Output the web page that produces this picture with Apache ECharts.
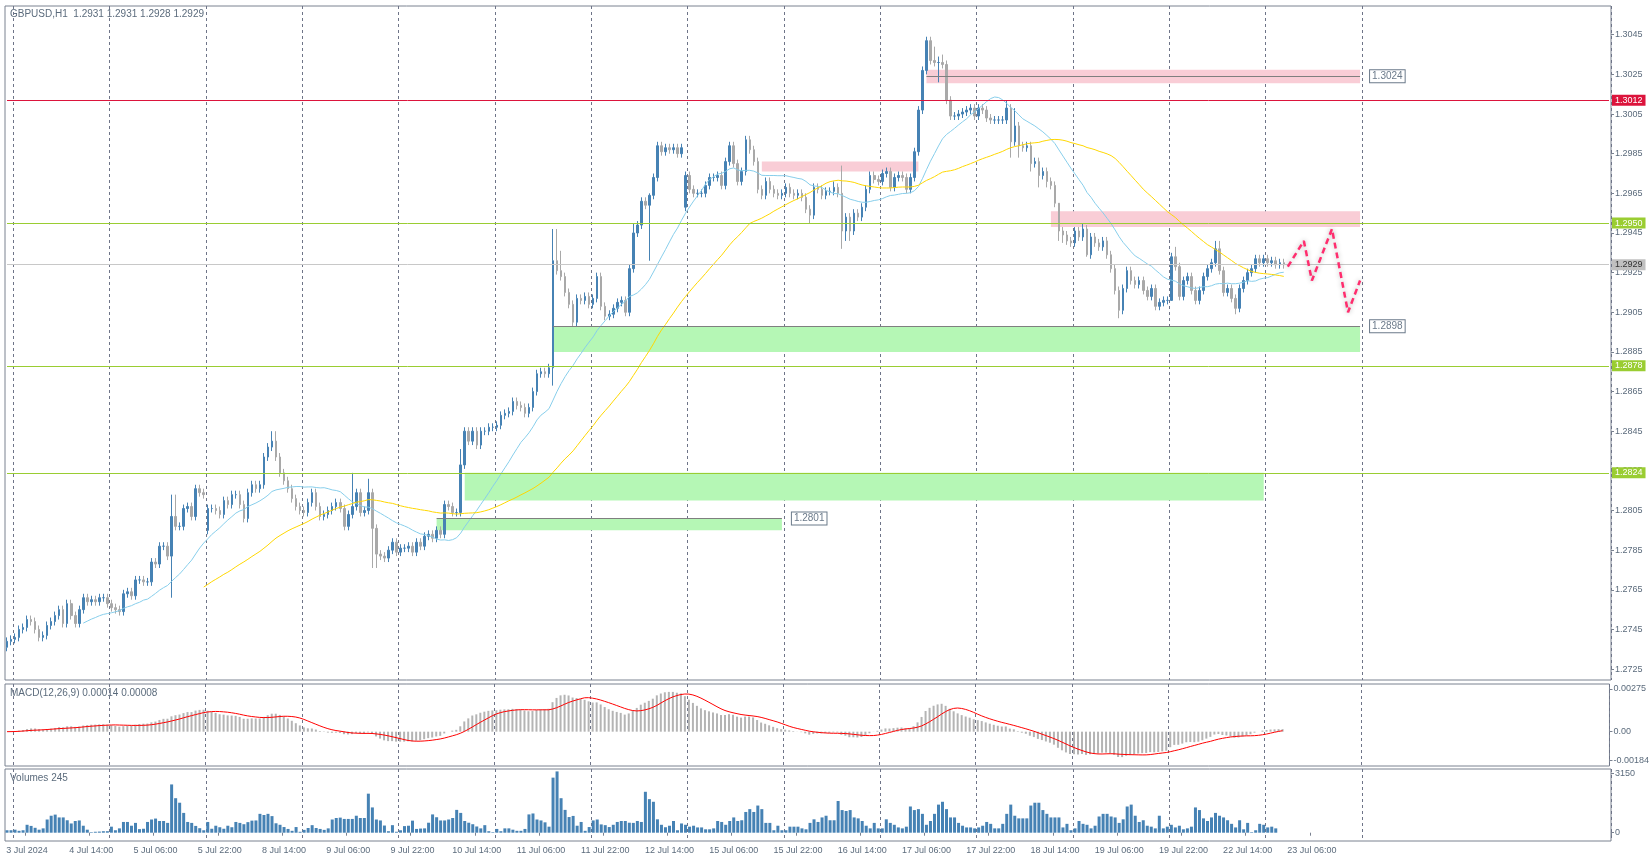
<!DOCTYPE html>
<html><head><meta charset="utf-8">
<script src="https://cdn.jsdelivr.net/npm/echarts@6/dist/echarts.min.js"></script>
<style>html,body{margin:0;padding:0;background:#fff}#c{width:1652px;height:862px}</style>
</head><body><div id="c"></div>
<script>
// ---- DATA ----
const closes = [1.2739,1.2740,1.2741,1.2745,1.2746,1.2750,1.2749,1.2745,1.2741,1.2742,
1.2747,1.2749,1.2752,1.2755,1.2748,1.2758,1.2752,1.2748,1.2755,1.2761,
1.2759,1.2760,1.2759,1.2761,1.2761,1.2758,1.2756,1.2755,1.2754,1.2763,
1.2764,1.2762,1.2770,1.2770,1.2769,1.2769,1.2779,1.2778,1.2787,1.2787,
1.2782,1.2802,1.2797,1.2797,1.2806,1.2807,1.2802,1.2816,1.2814,1.2813,
1.2806,1.2806,1.2805,1.2803,1.2810,1.2808,1.2813,1.2813,1.2808,1.2801,
1.2814,1.2818,1.2816,1.2818,1.2832,1.2837,1.2840,1.2832,1.2824,1.2820,
1.2816,1.2811,1.2807,1.2805,1.2804,1.2809,1.2814,1.2807,1.2802,1.2803,
1.2805,1.2807,1.2809,1.2806,1.2797,1.2803,1.2807,1.2814,1.2804,1.2805,
1.2814,1.2796,1.2783,1.2782,1.2781,1.2785,1.2789,1.2784,1.2786,1.2786,
1.2787,1.2784,1.2789,1.2787,1.2792,1.2793,1.2791,1.2795,1.2793,1.2808,
1.2807,1.2804,1.2804,1.2828,1.2845,1.2840,1.2845,1.2838,1.2845,1.2845,
1.2847,1.2847,1.2848,1.2853,1.2854,1.2855,1.2860,1.2858,1.2857,1.2854,
1.2857,1.2865,1.2874,1.2875,1.2874,1.2877,1.2931,1.2926,1.2923,1.2915,
1.2909,1.2900,1.2912,1.2911,1.2913,1.2909,1.2912,1.2923,1.2908,1.2903,
1.2904,1.2907,1.2910,1.2911,1.2905,1.2927,1.2945,1.2949,1.2961,1.2959,
1.2964,1.2973,1.2989,1.2986,1.2988,1.2987,1.2988,1.2985,1.2988,1.2974,
1.2967,1.2965,1.2965,1.2965,1.2969,1.2973,1.2973,1.2974,1.2969,1.2981,
1.2989,1.2980,1.2971,1.2976,1.2992,1.2987,1.2981,1.2967,1.2964,1.2971,
1.2967,1.2965,1.2964,1.2965,1.2968,1.2965,1.2964,1.2965,1.2963,1.2957,
1.2954,1.2968,1.2967,1.2964,1.2966,1.2966,1.2968,1.2965,1.2946,1.2953,
1.2946,1.2955,1.2953,1.2958,1.2967,1.2974,1.2972,1.2971,1.2975,1.2976,
1.2968,1.2973,1.2974,1.2973,1.2967,1.2973,1.2986,1.3007,1.3027,1.3042,
1.3032,1.3031,1.3031,1.3030,1.3012,1.3004,1.3004,1.3005,1.3006,1.3007,
1.3008,1.3004,1.3008,1.3007,1.3003,1.3002,1.3002,1.3002,1.3002,1.3008,
1.2991,1.2999,1.2989,1.2988,1.2989,1.2980,1.2981,1.2974,1.2976,1.2971,
1.2969,1.2960,1.2946,1.2944,1.2941,1.2940,1.2946,1.2943,1.2947,1.2934,
1.2943,1.2940,1.2938,1.2941,1.2934,1.2927,1.2916,1.2906,1.2917,1.2926,
1.2921,1.2919,1.2921,1.2916,1.2913,1.2917,1.2908,1.2910,1.2911,1.2911,
1.2933,1.2928,1.2913,1.2921,1.2923,1.2916,1.2911,1.2916,1.2923,1.2927,
1.2930,1.2937,1.2926,1.2915,1.2917,1.2912,1.2907,1.2917,1.2921,1.2925,
1.2927,1.2932,1.2930,1.2932,1.2930,1.2931,1.2929,1.2930,1.2929];
const firstOpen = 1.2736;
const gapOpens = {50:1.2795, 169:1.2958};
const highs = {41:1.2813,42:1.2813,66:1.2845,67:1.2845,86:1.2824,90:1.2821,113:1.2836,136:1.2947,137:1.2947,138:1.2936,
  156:1.2950,160:1.2965,184:1.2994,185:1.2994,206:1.2971,208:1.2979,229:1.3044,230:1.3044,231:1.3039,232:1.3034,233:1.3035,
  234:1.3032,249:1.3012,251:1.3008,262:1.2956,268:1.2950,279:1.2928,290:1.2935,291:1.2938,301:1.2941,302:1.2941,313:1.2934};
const lows = {41:1.2761,91:1.2776,92:1.2776,136:1.2868,141:1.2898,160:1.2931,200:1.2950,208:1.2937,209:1.2941,210:1.2941,
  232:1.3021,234:1.3010,250:1.2983,252:1.2983,255:1.2976,257:1.2968,259:1.2968,262:1.2941,263:1.2940,269:1.2933,
  277:1.2902,278:1.2904,290:1.2913,306:1.2904};
const volumes = [130,130,160,100,130,420,360,260,160,230,700,900,960,810,810,660,490,620,650,370,
160,30,50,60,80,80,320,130,230,570,570,370,520,190,210,570,700,750,620,620,
520,2560,1830,1590,1050,570,520,360,240,130,570,210,370,290,210,370,290,570,520,450,
560,640,650,1000,940,1000,880,500,420,300,200,100,300,50,150,250,400,250,200,150,
230,700,780,800,730,730,730,900,780,780,2070,1340,700,650,380,80,400,50,130,350,
370,640,200,220,230,530,970,820,650,650,700,780,1210,1050,620,530,450,330,230,400,
80,30,200,80,230,230,160,100,100,200,970,1020,700,650,550,320,2920,3250,1830,1210,
830,890,370,570,100,300,650,700,440,400,300,420,570,620,620,530,520,620,570,2170,
1780,1640,710,420,290,370,620,130,490,420,320,370,280,280,180,180,230,620,570,420,
620,810,620,660,1100,1250,1100,1440,1250,520,520,130,370,130,130,320,320,320,230,180,
520,710,570,810,900,660,660,1680,1200,1150,1200,810,760,620,370,230,520,230,230,710,
520,420,280,230,320,1390,1200,1250,1000,420,620,1000,1490,1640,1250,810,810,520,370,280,
280,230,280,370,570,470,230,230,470,1000,1490,900,760,760,760,1440,1590,1590,1200,1000,
810,810,810,280,470,130,230,620,470,420,230,370,860,1000,1000,860,810,520,710,1390,
1490,900,570,660,370,320,230,900,230,320,420,280,370,180,230,320,1340,1200,760,620,
810,1050,900,810,660,470,280,660,180,520,30,130,470,420,280,320,230];
const xLabels = ['3 Jul 2024','4 Jul 14:00','5 Jul 06:00','5 Jul 22:00','8 Jul 14:00','9 Jul 06:00','9 Jul 22:00',
 '10 Jul 14:00','11 Jul 06:00','11 Jul 22:00','12 Jul 14:00','15 Jul 06:00','15 Jul 22:00','16 Jul 14:00',
 '17 Jul 06:00','17 Jul 22:00','18 Jul 14:00','19 Jul 06:00','19 Jul 22:00','22 Jul 14:00','23 Jul 06:00'];
const priceTicks = [1.2725,1.2745,1.2765,1.2785,1.2805,1.2825,1.2845,1.2865,1.2885,1.2905,1.2925,1.2945,1.2965,1.2985,1.3005,1.3025,1.3045];
const levelValues = [1.3012, 1.2950, 1.2929, 1.2878, 1.2824];
const levelColors = ['#dc143c','#9acd32','#c8c8c8','#9acd32','#9acd32'];
const levelBoxColors = ['#dc143c','#9acd32','#c0c0c0','#9acd32','#9acd32'];
const levelTextColors = ['#fff','#fff','#333','#fff','#fff'];
const trendLines = [{x0:229,x1:337,v:1.3024},{x0:136,x1:337,v:1.2898},{x0:107,x1:193,v:1.2801}];
const zones = [
  {x0:229,x1:337,top:1.30274,bot:1.30205,color:'#f9cdd6'},
  {x0:188,x1:227,top:1.2981,bot:1.2976,color:'#f9cdd6'},
  {x0:260,x1:337,top:1.2956,bot:1.2948,color:'#f9cdd6'},
  {x0:136,x1:337,top:1.2898,bot:1.2885,color:'#b5f7b5'},
  {x0:114,x1:313,top:1.2824,bot:1.2810,color:'#b5f7b5'},
  {x0:107,x1:193,top:1.2801,bot:1.2795,color:'#b5f7b5'}];
const forecastX = [319,323,325,330,334,337];
const forecastY = [1.2928,1.2941,1.2921,1.2947,1.2905,1.2921];

// ---- BUILD ----
const N = 400;
const cats = Array.from({length:N},(_,i)=>String(i));
const labelAt = {}; xLabels.forEach((t,k)=>{labelAt[5+16*k]=t;});
const candles = closes.map((c,i)=>{
  const o = i===0?firstOpen:(gapOpens[i]!==undefined?gapOpens[i]:closes[i-1]);
  const h = highs[i]!==undefined?highs[i]:Math.max(o,c)+0.0002;
  const l = lows[i]!==undefined?lows[i]:Math.min(o,c)-0.0002;
  return [o,c,l,h];
});
function sma(arr,p){return arr.map((_,i)=>{if(i<p-1)return '-';let s=0;for(let j=i-p+1;j<=i;j++)s+=arr[j];return +(s/p).toFixed(5);});}
function ema(arr,p){const k=2/(p+1);let e=arr[0];return arr.map(v=>(e=v*k+e*(1-k)));}
const ma20 = sma(closes,20), ma50 = sma(closes,50);
const e12=ema(closes,12), e26=ema(closes,26);
const macd = e12.map((v,i)=>v-e26[i]);
const signal = macd.map((_,i)=>{const a=Math.max(0,i-8);let s=0;for(let j=a;j<=i;j++)s+=macd[j];return s/(i-a+1);});

const TXT='#5b6b7c', FONT='Liberation Sans', BORDER='#7a8290';
const vgrid = {show:true, interval:(i)=>(i<340 && (i-2)%24===0), lineStyle:{color:'#6e7488',type:[3,3],width:1}};
function xa(gi,showLabels){return {type:'category',gridIndex:gi,data:cats,boundaryGap:true,
  axisLine:{show:false},axisTick:{show:showLabels,interval:(i)=>labelAt[i]!==undefined,length:3,lineStyle:{color:BORDER}},
  axisLabel:{show:showLabels,interval:(i)=>labelAt[i]!==undefined,formatter:(v,i)=>labelAt[i]||'',fontSize:9,color:TXT,fontFamily:FONT,margin:5},
  splitLine:vgrid};}
const grid = [
  {left:5,right:41,top:6,height:674,show:true,borderColor:BORDER,borderWidth:1},
  {left:5,right:41,top:684,height:82,show:true,borderColor:BORDER,borderWidth:1},
  {left:5,right:41,top:769,height:72,show:true,borderColor:BORDER,borderWidth:1}];
const axLabel = {fontSize:9,color:TXT,fontFamily:FONT,margin:4};
const yAxis = [
  {type:'value',gridIndex:0,position:'right',min:1.27195,max:1.30595,splitLine:{show:false},axisLine:{show:false},
   axisTick:{show:true,length:3,lineStyle:{color:BORDER},customValues:priceTicks},
   axisLabel:Object.assign({customValues:priceTicks,formatter:v=>v.toFixed(4)},axLabel)},
  {type:'value',gridIndex:1,position:'right',min:-0.00221,max:0.00307,splitLine:{show:false},axisLine:{show:false},
   axisTick:{show:true,length:3,lineStyle:{color:BORDER},customValues:[0.00275,0,-0.00184]},
   axisLabel:Object.assign({customValues:[0.00275,0,-0.00184],formatter:v=>v===0?'0.00':v.toFixed(5)},axLabel)},
  {type:'value',gridIndex:2,position:'right',min:-440,max:3378,splitLine:{show:false},axisLine:{show:false},
   axisTick:{show:true,length:3,lineStyle:{color:BORDER},customValues:[0,3150]},
   axisLabel:Object.assign({customValues:[0,3150],formatter:v=>String(v)},axLabel)}];

// full-width level lines as two-point segments spanning the whole axis
const levelLines = levelValues.map((v,k)=>[
  {coord:[0,v],lineStyle:{color:levelColors[k],width:1,type:'solid'},
   label:{show:true,position:'end',distance:3,formatter:v.toFixed(4),backgroundColor:levelBoxColors[k],color:levelTextColors[k],padding:[1,3],fontSize:9,fontFamily:FONT}},
  {coord:[N-1,v]}]);
const trendSegs = trendLines.map(t=>[{coord:[t.x0,t.v],lineStyle:{color:'#7f7f7f',width:1.2,type:'solid'},
  label:{show:true,position:'end',distance:10,formatter:t.v.toFixed(4),backgroundColor:'#fff',borderColor:'#6b7a8a',borderWidth:1,color:'#6b7a8a',padding:[1,2],fontSize:10,fontFamily:FONT}},
  {coord:[t.x1,t.v]}]);
const areas = zones.map(z=>[{coord:[z.x0,z.top],itemStyle:{color:z.color}},{coord:[z.x1,z.bot]}]);

const option = {
  animation:false,
  grid, yAxis,
  xAxis:[xa(0,false),xa(1,false),xa(2,true)],
  graphic:[
    {type:'text',left:10,top:9,style:{text:'GBPUSD,H1  1.2931 1.2931 1.2928 1.2929',fontSize:10,fill:TXT,fontFamily:FONT}},
    {type:'text',left:10,top:688,style:{text:'MACD(12,26,9) 0.00014 0.00008',fontSize:10,fill:TXT,fontFamily:FONT}},
    {type:'text',left:10,top:773,style:{text:'Volumes 245',fontSize:10,fill:TXT,fontFamily:FONT}}],
  series:[
    {type:'line',xAxisIndex:0,yAxisIndex:0,data:[[0,1.29]],symbol:'none',lineStyle:{opacity:0},silent:true,z:1,
     markArea:{silent:true,data:areas}},
    {type:'line',xAxisIndex:0,yAxisIndex:0,data:[[0,1.29]],symbol:'none',lineStyle:{opacity:0},silent:true,z:2,
     markLine:{silent:true,symbol:'none',data:levelLines.concat(trendSegs)}},
    {type:'candlestick',xAxisIndex:0,yAxisIndex:0,data:candles,barMaxWidth:3,z:3,
     itemStyle:{color:'#4682b4',color0:'#a9a9a9',borderColor:'#4682b4',borderColor0:'#a9a9a9',borderWidth:1}},
    {type:'line',xAxisIndex:0,yAxisIndex:0,data:ma20,showSymbol:false,lineStyle:{color:'#87ceeb',width:1},z:4},
    {type:'line',xAxisIndex:0,yAxisIndex:0,data:ma50,showSymbol:false,lineStyle:{color:'#ffd700',width:1},z:4},
    {type:'line',xAxisIndex:0,yAxisIndex:0,data:forecastX.map((x,i)=>[x,forecastY[i]]),showSymbol:false,z:5,
     lineStyle:{color:'#ff2d6e',width:2.5,type:[6,4],shadowBlur:5,shadowColor:'rgba(0,0,0,0.3)'}},
    {type:'bar',xAxisIndex:1,yAxisIndex:1,data:macd,barWidth:2,itemStyle:{color:'#b4b4b4'}},
    {type:'line',xAxisIndex:1,yAxisIndex:1,data:signal,showSymbol:false,lineStyle:{color:'#ff0000',width:1}},
    {type:'bar',xAxisIndex:2,yAxisIndex:2,data:volumes,barWidth:3,itemStyle:{color:'#4682b4'}}
  ]
};
const chart = echarts.init(document.getElementById('c'));
chart.setOption(option);
</script></body></html>
